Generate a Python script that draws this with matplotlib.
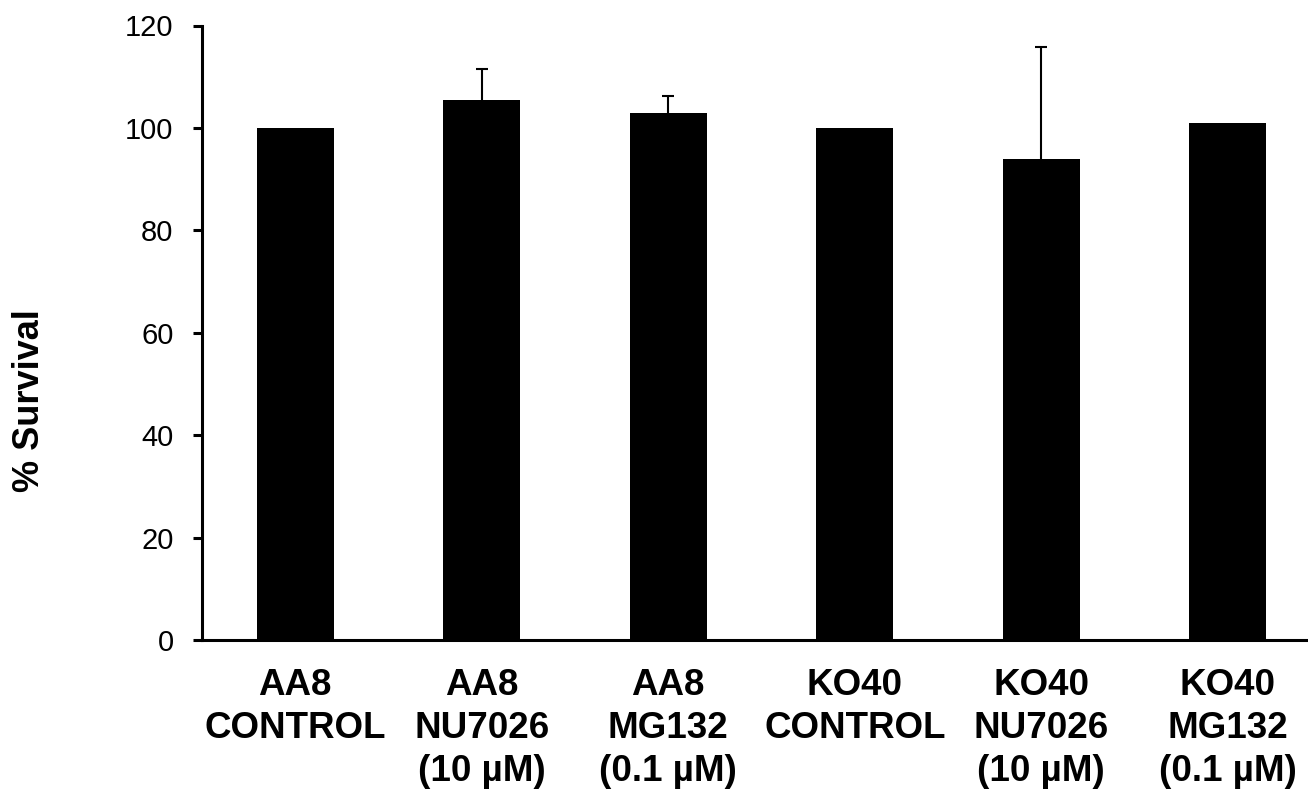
import matplotlib.pyplot as plt

# данные
categories = ['AA8\nCONTROL', 'AA8\nNU7026\n(10 µM)', 'AA8\nMG132\n(0.1 µM)',
              'KO40\nCONTROL', 'KO40\nNU7026\n(10 µM)', 'KO40\nMG132\n(0.1 µM)']
survival = [100.0, 105.5, 103.0, 100.0, 93.9, 101.0]
err_up = [0.0, 6.0, 3.3, 0.0, 21.9, 0.0]
y_ticks = [0, 20, 40, 60, 80, 100, 120]

plt.rcParams['font.family'] = ['Liberation Sans', 'DejaVu Sans']

fig = plt.figure(figsize=(13.08, 7.91), dpi=100)
ax = fig.add_axes([202 / 1308, 1 - 640 / 791, 1119 / 1308, 614.5 / 791])

x = list(range(len(categories)))
ax.bar(x, survival, width=0.415, color='black', zorder=2)

# усы только вверх и только там, где есть ошибка
ex = [i for i in x if err_up[i] > 0]
ey = [survival[i] for i in ex]
eu = [err_up[i] for i in ex]
_, caps, _ = ax.errorbar(ex, ey, yerr=[[0] * len(ex), eu], fmt='none',
                         ecolor='black', elinewidth=1.5, capsize=4.5,
                         capthick=1.5, zorder=3)
for c in caps:
    if list(c.get_ydata()) == ey:
        c.set_visible(False)

ax.set_xlim(-0.5, len(categories) - 0.5)
ax.set_ylim(0, 120)
ax.set_yticks(y_ticks)
ax.set_xticks(x)
ax.set_xticklabels(categories, fontsize=26.5, fontweight='bold', linespacing=1.3)

ax.spines['top'].set_visible(False)
ax.spines['right'].set_visible(False)
ax.spines['left'].set_linewidth(2.2)
ax.spines['bottom'].set_linewidth(2.2)
ax.tick_params(axis='y', direction='out', length=6.5, width=2.2, labelsize=21, pad=14)
ax.tick_params(axis='x', length=0, pad=20)

ax.set_ylabel('% Survival', fontsize=26, fontweight='bold')
ax.yaxis.label.set_va('center')
ax.yaxis.set_label_coords(-0.1546, 0.389)

fig.savefig('out.png', dpi=100)
